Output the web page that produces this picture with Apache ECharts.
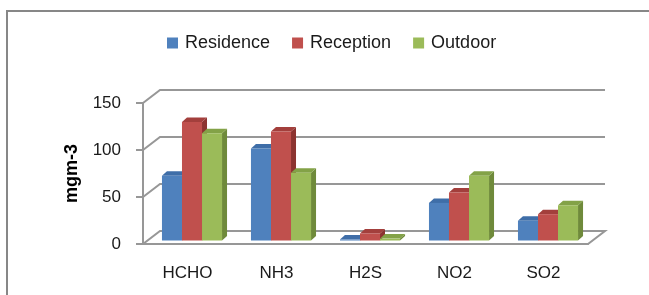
<!DOCTYPE html>
<html>
<head>
<meta charset="utf-8">
<script src="https://cdn.jsdelivr.net/npm/echarts@6/dist/echarts.min.js"></script>
<style>
html, body { margin: 0; padding: 0; background: #fff; }
#chart { width: 649px; height: 295px; }
</style>
</head>
<body>
<div id="chart"></div>
<script>
// data
var categories = ['HCHO', 'NH3', 'H2S', 'NO2', 'SO2'];
var residence = [69, 98, 1, 40, 21];
var reception = [126, 116, 7.5, 51, 28];
var outdoor = [114, 72, 2, 69, 37.5];
var yTicks = [0, 50, 100, 150];
var seriesNames = ['Residence', 'Reception', 'Outdoor'];

var FONT = "'Liberation Sans', Arial, sans-serif";
var GRID_COLOR = '#979797';
var WALL_DX = 17, WALL_DY = -13;   // depth of the back wall
var BAR_DX = 4.5, BAR_DY = -3.5;   // bars stand a little behind the front edge
var DEP_X = 5, DEP_Y = -4.5;       // thickness of each bar

var palette = [
    {front: '#4f81bd', top: '#3f6ea8', side: '#385d8a'},
    {front: '#c0504d', top: '#a33f3c', side: '#8c3330'},
    {front: '#9bbb59', top: '#83a247', side: '#6f8a3b'}
];

function wallRenderer(params, api) {
    var cs = params.coordSys;
    var v = api.value(1);
    var y = api.coord([0, v])[1];
    var x0 = cs.x, x1 = cs.x + cs.width;
    if (v === 0) {
        return {
            type: 'polygon',
            shape: {points: [[x0, y], [x1, y], [x1 + WALL_DX, y + WALL_DY], [x0 + WALL_DX, y + WALL_DY]]},
            style: {fill: '#fff', stroke: GRID_COLOR, lineWidth: 2}
        };
    }
    return {
        type: 'polyline',
        shape: {points: [[x0, y], [x0 + WALL_DX, y + WALL_DY], [x1 + WALL_DX, y + WALL_DY]]},
        style: {fill: 'none', stroke: GRID_COLOR, lineWidth: 2}
    };
}

function barRenderer(k) {
    return function (params, api) {
        var top = api.coord([api.value(0), api.value(1)]);
        var base = api.coord([api.value(0), 0]);
        var band = api.size([1, 0])[0];
        var w = band * 0.225;
        var x0 = base[0] - 1.5 * w + k * w + BAR_DX;
        var yb = base[1] + BAR_DY, yt = top[1] + BAR_DY;
        var c = palette[k];
        return {
            type: 'group',
            children: [
                {type: 'polygon', shape: {points: [[x0 + w, yt], [x0 + w + DEP_X, yt + DEP_Y], [x0 + w + DEP_X, yb + DEP_Y], [x0 + w, yb]]}, style: {fill: c.side}},
                {type: 'polygon', shape: {points: [[x0, yt], [x0 + DEP_X, yt + DEP_Y], [x0 + w + DEP_X, yt + DEP_Y], [x0 + w, yt]]}, style: {fill: c.top}},
                {type: 'rect', shape: {x: x0, y: yt, width: w, height: yb - yt}, style: {fill: c.front}}
            ]
        };
    };
}

function toData(vals) {
    var out = [];
    for (var i = 0; i < vals.length; i++) out.push([i, vals[i]]);
    return out;
}

var series = [{
    name: 'walls',
    type: 'custom',
    silent: true,
    renderItem: wallRenderer,
    data: yTicks.map(function (v) { return [0, v]; }),
    z: 1
}];
var allVals = [residence, reception, outdoor];
for (var k = 0; k < 3; k++) {
    series.push({
        name: seriesNames[k],
        type: 'custom',
        renderItem: barRenderer(k),
        itemStyle: {color: palette[k].front},
        encode: {x: 0, y: 1},
        data: toData(allVals[k]),
        z: 3
    });
}

var option = {
    animation: false,
    backgroundColor: '#fff',
    textStyle: {fontFamily: FONT},
    graphic: [{
        type: 'rect',
        shape: {x: 7, y: 11, width: 700, height: 400},
        style: {fill: 'none', stroke: '#878787', lineWidth: 2},
        silent: true
    }],
    legend: {
        data: seriesNames,
        left: 167,
        top: 34,
        padding: 0,
        icon: 'rect',
        itemWidth: 11,
        itemHeight: 11,
        itemGap: 22,
        textStyle: {fontSize: 18, color: '#1a1a1a', fontFamily: FONT, padding: [0, 0, 0, 2]}
    },
    grid: {left: 143, right: 61, top: 103, bottom: 51, containLabel: false},
    xAxis: {
        type: 'category',
        data: categories,
        axisLine: {show: true, lineStyle: {color: GRID_COLOR, width: 2}},
        axisTick: {show: false},
        axisLabel: {fontSize: 17, color: '#1a1a1a', margin: 21, fontFamily: FONT}
    },
    yAxis: {
        type: 'value',
        min: 0,
        max: 150,
        interval: 50,
        name: 'mgm-3',
        nameLocation: 'middle',
        nameGap: 62,
        nameTextStyle: {fontSize: 18, fontWeight: 'bold', color: '#000', fontFamily: FONT},
        axisLine: {show: true, lineStyle: {color: GRID_COLOR, width: 2}},
        axisTick: {show: true, length: 7, lineStyle: {color: GRID_COLOR, width: 2}},
        splitLine: {show: false},
        axisLabel: {fontSize: 17, color: '#1a1a1a', margin: 22, fontFamily: FONT}
    },
    series: series
};

var chart = echarts.init(document.getElementById('chart'));
chart.setOption(option);
</script>
</body>
</html>
